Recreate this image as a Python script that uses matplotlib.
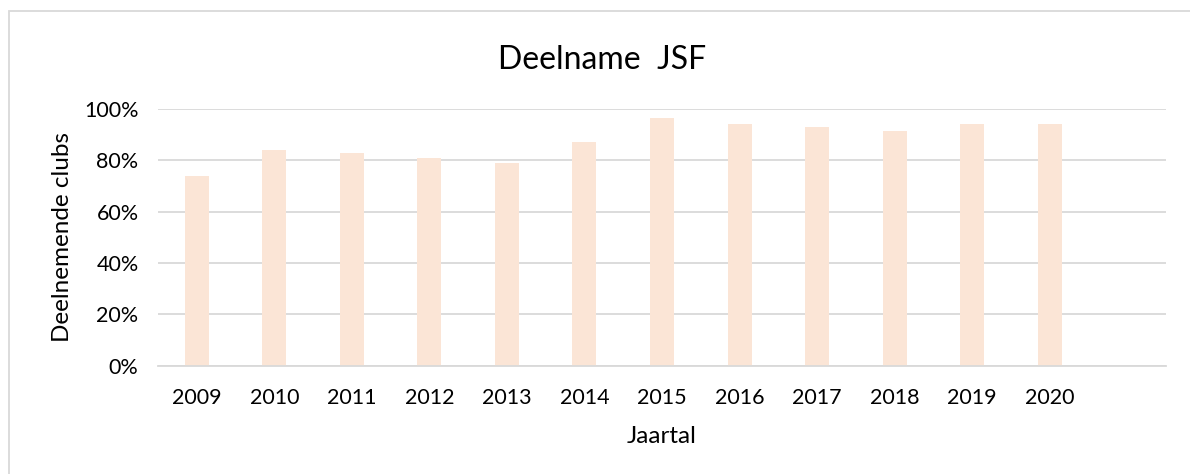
import matplotlib
matplotlib.use("Agg")
import matplotlib.pyplot as plt
from matplotlib.patches import Rectangle
from matplotlib.ticker import PercentFormatter

plt.rcParams['font.family'] = ['Lato', 'DejaVu Sans']

years = ['2009', '2010', '2011', '2012', '2013', '2014', '2015', '2016', '2017', '2018', '2019', '2020', '']
values = [74, 84, 83, 81, 79, 87, 96.5, 94, 93, 91.5, 94, 94, None]

W, H = 1190, 474
fig = plt.figure(figsize=(W / 100, H / 100), dpi=100)
ax = fig.add_axes([158 / W, 1 - 365.5 / H, (1166 - 158) / W, (365.5 - 109) / H])

xs = list(range(len(years)))
bar_vals = [v if v is not None else 0 for v in values]
ax.bar(xs, bar_vals, width=0.31, color='#FBE5D6', zorder=2)
ax.set_xlim(-0.5, len(years) - 0.5)
ax.set_ylim(0, 100)
ax.set_yticks([0, 20, 40, 60, 80, 100])
ax.yaxis.set_major_formatter(PercentFormatter(decimals=0))
ax.set_xticks(xs)
ax.set_xticklabels(years)
ax.grid(axis='y', color='#D9D9D9', linewidth=1.3, zorder=0)
for s in ['top', 'right', 'left']:
    ax.spines[s].set_visible(False)
ax.spines['bottom'].set_color('#D9D9D9')
ax.spines['bottom'].set_linewidth(1.3)
ax.tick_params(axis='both', length=0, labelsize=15.5, colors='#000000')
ax.tick_params(axis='y', pad=14)
ax.tick_params(axis='x', pad=16)

ax.set_ylabel('Deelnemende clubs', fontsize=17.5)
ax.yaxis.set_label_coords((73 - 158) / (1166 - 158), 0.5)
ax.set_xlabel('Jaartal', fontsize=17.5, labelpad=13)

fig.text(602 / W, 1 - 60 / H, 'Deelname  JSF', fontsize=23, ha='center', va='center')

fig.patches.append(Rectangle((9 / W, -0.1), 1.2, 1 - 11 / H + 0.1, transform=fig.transFigure,
                             fill=False, edgecolor='#D9D9D9', linewidth=1.3))

fig.savefig('out.png', dpi=100)
